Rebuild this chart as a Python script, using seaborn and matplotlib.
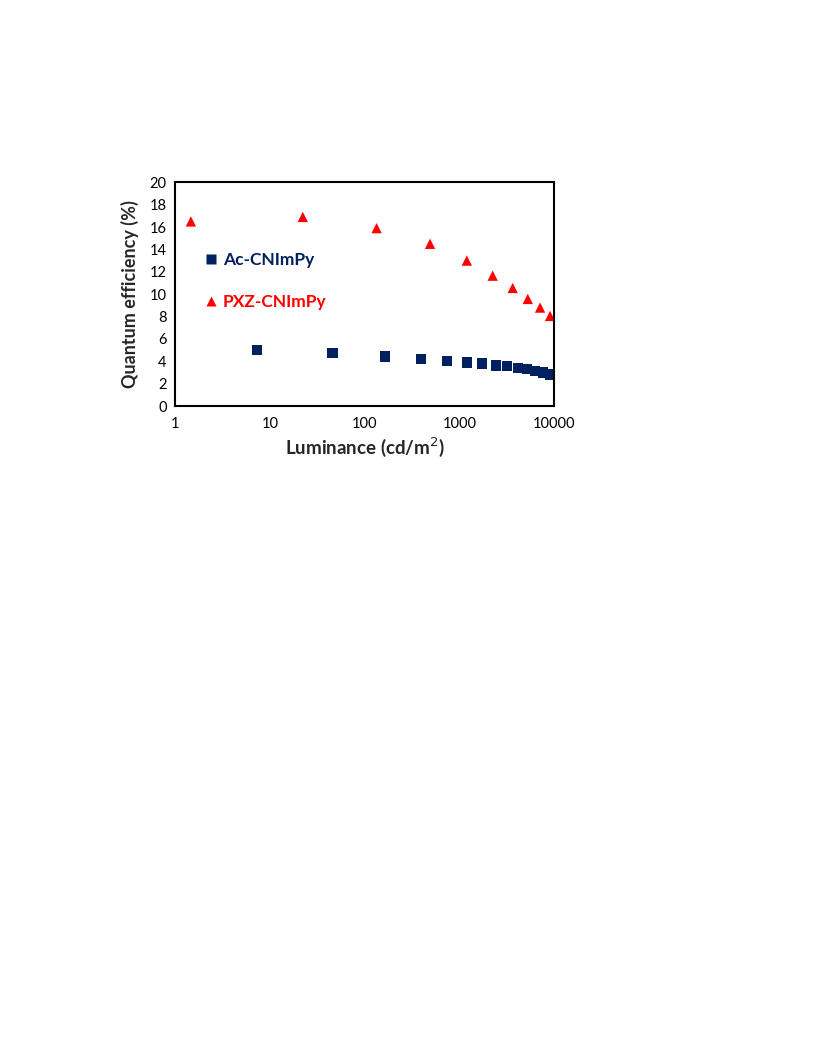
import numpy as np
import pandas as pd
import matplotlib
matplotlib.use('Agg')
import matplotlib.pyplot as plt
import seaborn as sns

# Ac-CNImPy (blue squares)
ac_lum = [7.3, 46, 165, 392, 737, 1200, 1740, 2440, 3170, 4140, 5150, 6300, 7600, 9070]
ac_eqe = [4.98, 4.71, 4.44, 4.23, 4.05, 3.90, 3.79, 3.61, 3.55, 3.37, 3.28, 3.10, 3.01, 2.83]

# PXZ-CNImPy (red triangles)
pxz_lum = [1.47, 22.3, 134, 491, 1200, 2250, 3660, 5280, 7120, 9070]
pxz_eqe = [16.5, 16.9, 15.9, 14.5, 13.0, 11.65, 10.55, 9.57, 8.8, 8.05]

x_ticks = [1, 10, 100, 1000, 10000]
y_ticks = list(range(0, 21, 2))

df = pd.concat([
    pd.DataFrame({'lum': ac_lum, 'eqe': ac_eqe, 'device': 'Ac-CNImPy'}),
    pd.DataFrame({'lum': pxz_lum, 'eqe': pxz_eqe, 'device': 'PXZ-CNImPy'}),
])

sns.set_style('white')
plt.rcParams['font.family'] = ['Lato', 'DejaVu Sans']

fig = plt.figure(figsize=(8.16, 10.56), dpi=100)
ax = fig.add_axes([0.2145, 0.6155, 0.4645, 0.2119])

palette = {'Ac-CNImPy': '#002060', 'PXZ-CNImPy': '#ff0000'}
markers = {'Ac-CNImPy': 's', 'PXZ-CNImPy': '^'}
sns.scatterplot(data=df, x='lum', y='eqe', hue='device', style='device',
                palette=palette, markers=markers, s=55, edgecolor='none',
                ax=ax, legend=True)

ax.set_xscale('log')
ax.set_xlim(1, 10000)
ax.set_ylim(0, 20)
ax.set_xticks(x_ticks)
ax.set_xticklabels([str(t) for t in x_ticks])
ax.set_yticks(y_ticks)
ax.minorticks_off()
ax.tick_params(direction='in', length=4, width=1, labelsize=10.5, colors='black', pad=6)
ax.tick_params(axis='x', pad=8)
for sp in ax.spines.values():
    sp.set_color('black')
    sp.set_linewidth(1.5)

ax.set_xlabel('Luminance (cd/m$^2$)', fontsize=13.5, fontweight='bold', labelpad=3)
ax.set_ylabel('Quantum efficiency (%)', fontsize=13, fontweight='bold', labelpad=8)

leg = ax.legend(loc='upper left', bbox_to_anchor=(0.035, 0.76), frameon=False,
                handlelength=0.8, handletextpad=0.3, labelspacing=1.5,
                prop={'size': 12.5, 'weight': 'bold'})
for txt, name in zip(leg.get_texts(), ['Ac-CNImPy', 'PXZ-CNImPy']):
    txt.set_color(palette[name])

fig.savefig('out.png', dpi=100)
